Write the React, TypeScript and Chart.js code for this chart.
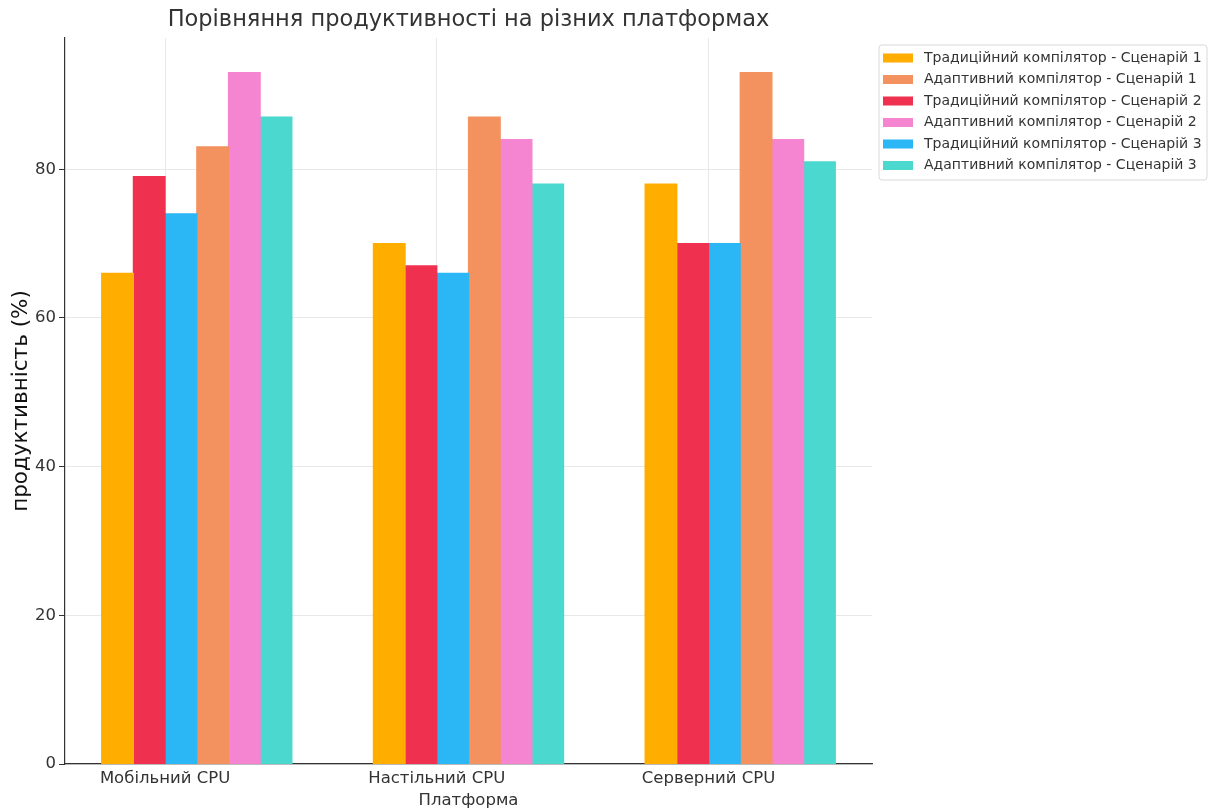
import React, { useEffect, useRef } from "react";
import { Chart, registerables } from "chart.js";

Chart.register(...registerables);

const TITLE = "Порівняння продуктивності на різних платформах";
const X_TITLE = "Платформа";
const Y_TITLE = "продуктивність (%)";

const PLATFORMS = ["Мобільний CPU", "Настільний CPU", "Серверний CPU"];

const SERIES_LABELS = [
  "Традиційний компілятор - Сценарій 1",
  "Традиційний компілятор - Сценарій 2",
  "Традиційний компілятор - Сценарій 3",
  "Адаптивний компілятор - Сценарій 1",
  "Адаптивний компілятор - Сценарій 2",
  "Адаптивний компілятор - Сценарій 3",
];

const TRAD_S1 = [66, 70, 78];
const TRAD_S2 = [79, 67, 70];
const TRAD_S3 = [74, 66, 70];
const ADAPT_S1 = [83, 87, 93];
const ADAPT_S2 = [93, 84, 84];
const ADAPT_S3 = [87, 78, 81];

const SERIES_VALUES = [TRAD_S1, TRAD_S2, TRAD_S3, ADAPT_S1, ADAPT_S2, ADAPT_S3];

const COLORS = ["#FFAE00", "#F0304F", "#2BB6F6", "#F3915F", "#F584D1", "#4AD8CF"];

// legend lists the series interleaved (trad/adapt per scenario)
const LEGEND_ORDER = [0, 3, 1, 4, 2, 5];

const Y_TICKS = [0, 20, 40, 60, 80];
const Y_MAX = 97.65;

const FONT = "'DejaVu Sans', sans-serif";
const TEXT_COLOR = "#333333";

// group of 6 bars spans 0.7 of a category, ticks sit at the left edge of 3rd bar
const GROUP_WIDTH = 0.7;
const BAR_W = GROUP_WIDTH / SERIES_VALUES.length;
const GROUP_SHIFT = BAR_W; // group centre offset from the tick
const SPAN = PLATFORMS.length - 1 + GROUP_WIDTH;
const X_MIN = -2 * BAR_W - 0.05 * SPAN;
const X_MAX = PLATFORMS.length - 1 + 4 * BAR_W + 0.05 * SPAN;

const decorPlugin = {
  id: "decor",
  afterDraw(chart: any) {
    const ctx = chart.ctx;
    const area = chart.chartArea;
    ctx.save();
    // title centred over the plot area
    ctx.font = `22.5px ${FONT}`;
    ctx.fillStyle = TEXT_COLOR;
    ctx.textAlign = "center";
    ctx.textBaseline = "middle";
    ctx.fillText(TITLE, (area.left + area.right) / 2, 20);

    // legend box
    const x0 = 879;
    const y0 = 45;
    const w = 328;
    const h = 135;
    const r = 3;
    ctx.beginPath();
    ctx.moveTo(x0 + r, y0);
    ctx.lineTo(x0 + w - r, y0);
    ctx.quadraticCurveTo(x0 + w, y0, x0 + w, y0 + r);
    ctx.lineTo(x0 + w, y0 + h - r);
    ctx.quadraticCurveTo(x0 + w, y0 + h, x0 + w - r, y0 + h);
    ctx.lineTo(x0 + r, y0 + h);
    ctx.quadraticCurveTo(x0, y0 + h, x0, y0 + h - r);
    ctx.lineTo(x0, y0 + r);
    ctx.quadraticCurveTo(x0, y0, x0 + r, y0);
    ctx.closePath();
    ctx.fillStyle = "rgba(255,255,255,0.8)";
    ctx.fill();
    ctx.strokeStyle = "#d9d9d9";
    ctx.lineWidth = 1;
    ctx.stroke();

    ctx.font = `14px ${FONT}`;
    ctx.textBaseline = "middle";
    ctx.textAlign = "left";
    LEGEND_ORDER.forEach((di, row) => {
      const ds = chart.data.datasets[di];
      const cy = y0 + 13 + row * 21.5;
      ctx.fillStyle = ds.backgroundColor;
      ctx.fillRect(x0 + 4, cy - 4.5, 30, 9);
      ctx.fillStyle = TEXT_COLOR;
      ctx.fillText(ds.label, x0 + 45, cy);
    });
    ctx.restore();
  },
};

export default function App() {
  const canvasRef = useRef<HTMLCanvasElement | null>(null);

  useEffect(() => {
    const canvas = canvasRef.current;
    if (!canvas) return;

    const datasets = SERIES_VALUES.map((vals, si) => ({
      label: SERIES_LABELS[si],
      data: vals.map((v, ci) => ({ x: ci + GROUP_SHIFT, y: v })),
      backgroundColor: COLORS[si],
      borderWidth: 0,
      inflateAmount: 0.6,
      categoryPercentage: GROUP_WIDTH,
      barPercentage: 1.0,
    }));

    const chart = new Chart(canvas, {
      type: "bar",
      data: { datasets },
      plugins: [decorPlugin],
      options: {
        animation: false,
        responsive: false,
        maintainAspectRatio: false,
        layout: { padding: { left: 0, right: 338, top: 38, bottom: 0 } },
        plugins: {
          legend: { display: false },
          tooltip: { enabled: false },
          title: { display: false },
        },
        scales: {
          x: {
            type: "linear",
            offset: false,
            min: X_MIN,
            max: X_MAX,
            afterBuildTicks: (scale: any) => {
              scale.ticks = PLATFORMS.map((_, i) => ({ value: i }));
            },
            afterFit: (scale: any) => {
              scale.height = 46;
            },
            ticks: {
              color: TEXT_COLOR,
              font: { family: FONT, size: 16.5 },
              padding: 5,
              maxRotation: 0,
              autoSkip: false,
              callback: (v: any) => PLATFORMS[v] ?? "",
            },
            grid: {
              offset: false,
              color: "#e8e8e8",
              lineWidth: 1,
              drawTicks: false,
            },
            border: { display: true, color: "#333333", width: 1.2 },
            title: {
              display: true,
              text: X_TITLE,
              color: TEXT_COLOR,
              font: { family: FONT, size: 16.5 },
              padding: { top: 0, bottom: -1 },
            },
          },
          y: {
            type: "linear",
            min: 0,
            max: Y_MAX,
            afterBuildTicks: (scale: any) => {
              scale.ticks = Y_TICKS.map((v) => ({ value: v }));
            },
            afterFit: (scale: any) => {
              scale.width = 65;
            },
            ticks: {
              color: TEXT_COLOR,
              font: { family: FONT, size: 16.5 },
              padding: 3,
            },
            grid: {
              color: "#e8e8e8",
              lineWidth: 1,
              drawTicks: true,
              tickLength: 6,
              tickColor: "#333333",
            },
            border: { display: true, color: "#333333", width: 1.2 },
            title: {
              display: true,
              text: Y_TITLE,
              color: "#111111",
              font: { family: FONT, size: 21.5 },
              padding: { top: 9, bottom: 0 },
            },
          },
        },
      },
    } as any);

    return () => chart.destroy();
  }, []);

  return (
    <div style={{ position: "absolute", left: 0, top: 0, width: 1210, height: 810, background: "#fff" }}>
      <canvas ref={canvasRef} width={1210} height={810} style={{ width: 1210, height: 810, display: "block" }} />
    </div>
  );
}
